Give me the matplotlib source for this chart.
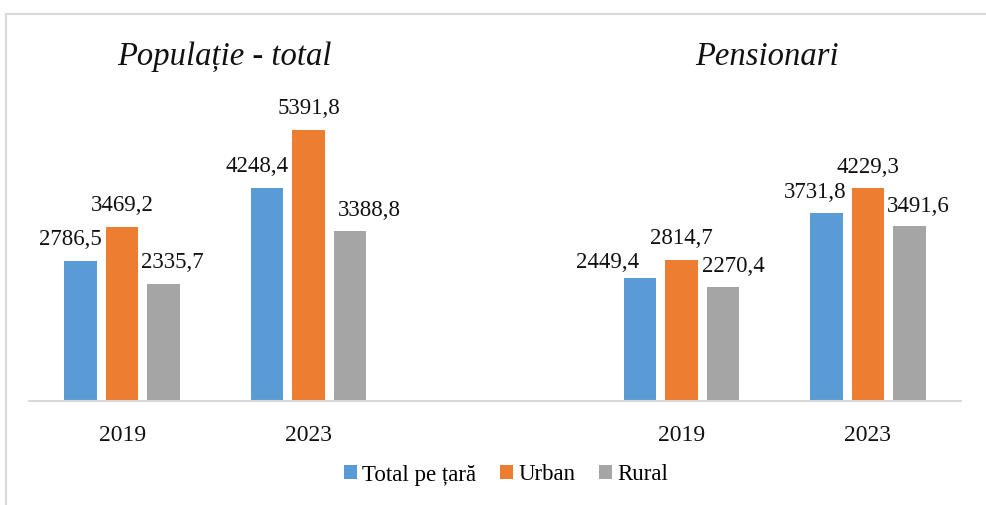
import numpy as np
import matplotlib
matplotlib.use('Agg')
import matplotlib.pyplot as plt
from matplotlib.lines import Line2D

plt.rcParams['font.family'] = ['Liberation Serif', 'DejaVu Serif']

# data
panels = ['Populație - total', 'Pensionari']
years = ['2019', '2023', '2019', '2023']
series = ['Total pe țară', 'Urban', 'Rural']
total = [2786.5, 4248.4, 2449.4, 3731.8]
urban = [3469.2, 5391.8, 2814.7, 4229.3]
rural = [2335.7, 3388.8, 2270.4, 3491.6]

colors = ['#5B9BD5', '#ED7D31', '#A5A5A5']

# label nudges (pixels) to copy the way Excel moved the labels apart
nudge_x = [[-10, -10, -32, -11], [0, 0, 0, 0], [9, 19, 10, 9]]
nudge_y = [[0, 0, -6, -1], [0, 0, 0, -1], [0, -1, -1, -2]]

W, H = 987, 505
fig = plt.figure(figsize=(W / 100, H / 100), dpi=100)
ax = fig.add_axes([29 / W, (H - 401) / H, 932 / W, 301 / H])

x = np.array([0, 1, 3, 4])
bw = 0.174
step = 0.2226
for i, vals in enumerate([total, urban, rural]):
    pos = x + (i - 1) * step
    ax.bar(pos, vals, width=bw, color=colors[i], label=series[i])
    for j, v in enumerate(vals):
        ax.annotate(f'{v:.1f}'.replace('.', ','), (pos[j], v),
                    xytext=(nudge_x[i][j] * 0.72, (16 + nudge_y[i][j]) * 0.72),
                    textcoords='offset points', ha='center', va='baseline',
                    fontsize=16.5, color='#111111')

ax.set_xlim(-0.5, 4.5)
ax.set_ylim(0, 5990)
ax.set_xticks(x)
ax.set_xticklabels(years, fontsize=17, color='#111111')
ax.tick_params(axis='x', length=0, pad=17)
ax.set_yticks([])
for s in ['top', 'right', 'left']:
    ax.spines[s].set_visible(False)
ax.spines['bottom'].set_color('#d9d9d9')
ax.spines['bottom'].set_linewidth(1.5)

# panel titles
fig.text(224 / W, 1 - 65 / H, panels[0], ha='center', va='baseline',
         fontsize=23.5, style='italic', color='#111111')
fig.text(767 / W, 1 - 65 / H, panels[1], ha='center', va='baseline',
         fontsize=23.5, style='italic', color='#111111')

fig.legend(loc='center', bbox_to_anchor=(506 / W, 1 - 475 / H), ncol=3,
           frameon=False, fontsize=16.5, handlelength=0.57, handleheight=0.57,
           handletextpad=0.22, columnspacing=1.05, borderpad=0)

# chart frame (top and left edge visible)
fig.add_artist(Line2D([6 / W, 1], [1 - 13.5 / H, 1 - 13.5 / H],
                      transform=fig.transFigure, color='#d9d9d9', lw=1.5))
fig.add_artist(Line2D([6 / W, 6 / W], [0, 1 - 13.5 / H],
                      transform=fig.transFigure, color='#d9d9d9', lw=1.5))

fig.savefig('out.png', dpi=100)
